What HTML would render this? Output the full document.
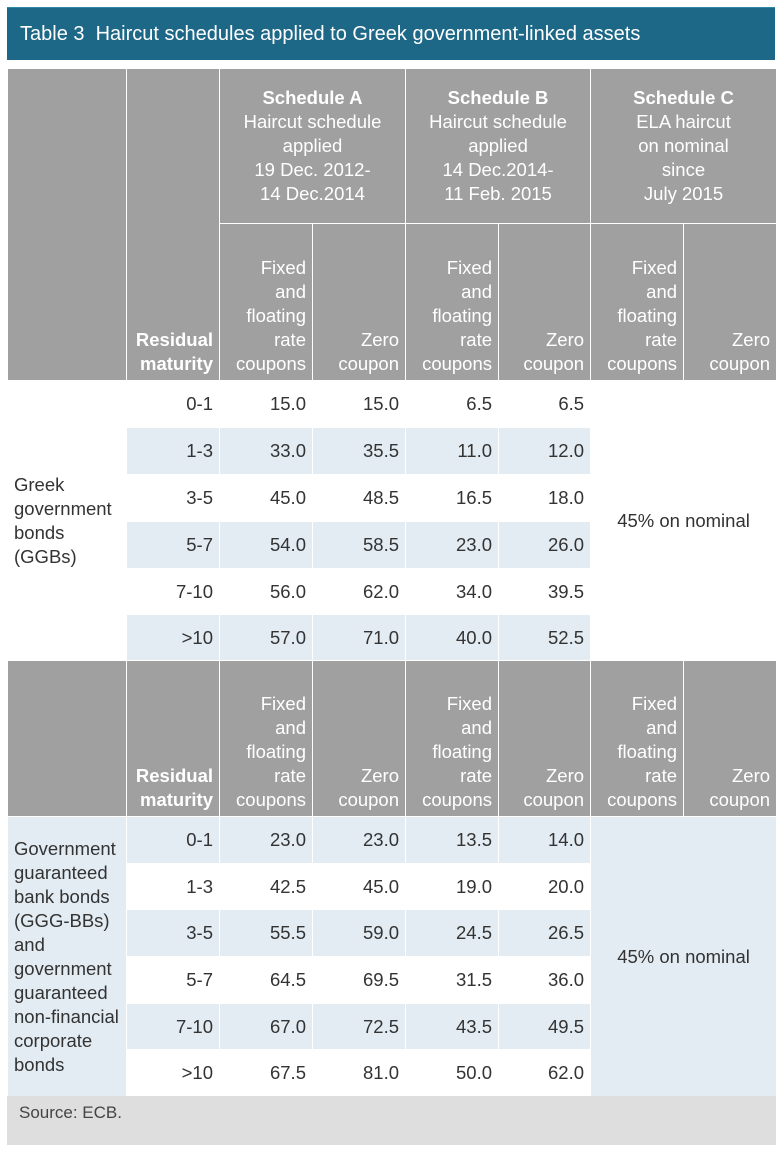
<!DOCTYPE html>
<html><head><meta charset="utf-8"><style>
body{margin:0;width:781px;height:1152px;background:#fff;font-family:"Liberation Sans",sans-serif;position:relative;overflow:hidden}
.title{position:absolute;left:7px;top:7px;width:768px;height:53px;background:#1d6787;color:#fff;font-size:20px;line-height:53px;padding-left:13px;box-sizing:border-box;border-top:1px solid #2f86a6}
table{position:absolute;left:7px;top:68px;border-collapse:collapse;table-layout:fixed;width:769px;font-size:18.5px;color:#333}
td{border:1.5px solid #fff;padding:0 6px;text-align:right;vertical-align:middle;line-height:24px;overflow:hidden}
.h{background:#a0a0a0;color:#fff}
.hc{text-align:center;vertical-align:middle}
.hb{vertical-align:bottom;padding-bottom:4px}
.b{background:#e3ecf3}
.w{background:#fff}
.l{text-align:left;padding-left:6px}
.c{text-align:center}
.src{position:absolute;left:7px;top:1096px;width:769px;height:49px;background:#dedede;font-size:17px;color:#444;line-height:34px;padding-left:12px;box-sizing:border-box}
</style></head><body>
<div class="title">Table 3&nbsp; Haircut schedules applied to Greek government-linked assets</div>
<table>
<colgroup><col style="width:119px"><col style="width:93px"><col style="width:93px"><col style="width:93px"><col style="width:93px"><col style="width:92px"><col style="width:93px"><col style="width:93px"></colgroup>
<tr style="height:155px">
<td class="h" rowspan="2"></td><td class="h" rowspan="2" style="vertical-align:bottom;padding-bottom:4px;font-weight:bold">Residual maturity</td>
<td class="h hc" colspan="2"><b>Schedule A</b><br>Haircut schedule<br>applied<br>19 Dec. 2012-<br>14 Dec.2014</td>
<td class="h hc" colspan="2"><b>Schedule B</b><br>Haircut schedule<br>applied<br>14 Dec.2014-<br>11 Feb. 2015</td>
<td class="h hc" colspan="2"><b>Schedule C</b><br>ELA haircut<br>on nominal<br>since<br>July 2015</td></tr>
<tr style="height:157px">
<td class="h hb">Fixed and floating rate coupons</td><td class="h hb">Zero coupon</td>
<td class="h hb">Fixed and floating rate coupons</td><td class="h hb">Zero coupon</td>
<td class="h hb">Fixed and floating rate coupons</td><td class="h hb">Zero coupon</td></tr>
<tr style="height:47px"><td class="w l" rowspan="6">Greek government bonds (GGBs)</td><td class="w">0-1</td><td class="w">15.0</td><td class="w">15.0</td><td class="w">6.5</td><td class="w">6.5</td><td class="w c" colspan="2" rowspan="6">45% on nominal</td></tr>
<tr style="height:47px"><td class="b">1-3</td><td class="b">33.0</td><td class="b">35.5</td><td class="b">11.0</td><td class="b">12.0</td></tr>
<tr style="height:47px"><td class="w">3-5</td><td class="w">45.0</td><td class="w">48.5</td><td class="w">16.5</td><td class="w">18.0</td></tr>
<tr style="height:47px"><td class="b">5-7</td><td class="b">54.0</td><td class="b">58.5</td><td class="b">23.0</td><td class="b">26.0</td></tr>
<tr style="height:46px"><td class="w">7-10</td><td class="w">56.0</td><td class="w">62.0</td><td class="w">34.0</td><td class="w">39.5</td></tr>
<tr style="height:46px"><td class="b">&gt;10</td><td class="b">57.0</td><td class="b">71.0</td><td class="b">40.0</td><td class="b">52.5</td></tr>
<tr style="height:156px"><td class="h"></td><td class="h hb" style="font-weight:bold">Residual maturity</td>
<td class="h hb">Fixed and floating rate coupons</td><td class="h hb">Zero coupon</td>
<td class="h hb">Fixed and floating rate coupons</td><td class="h hb">Zero coupon</td>
<td class="h hb">Fixed and floating rate coupons</td><td class="h hb">Zero coupon</td></tr>
<tr style="height:47px"><td class="b l" rowspan="6" style="vertical-align:top;padding-top:20px">Government guaranteed bank bonds (GGG-BBs) and government guaranteed non-financial corporate bonds</td><td class="b">0-1</td><td class="b">23.0</td><td class="b">23.0</td><td class="b">13.5</td><td class="b">14.0</td><td class="b c" colspan="2" rowspan="6">45% on nominal</td></tr>
<tr style="height:46px"><td class="w">1-3</td><td class="w">42.5</td><td class="w">45.0</td><td class="w">19.0</td><td class="w">20.0</td></tr>
<tr style="height:47px"><td class="b">3-5</td><td class="b">55.5</td><td class="b">59.0</td><td class="b">24.5</td><td class="b">26.5</td></tr>
<tr style="height:47px"><td class="w">5-7</td><td class="w">64.5</td><td class="w">69.5</td><td class="w">31.5</td><td class="w">36.0</td></tr>
<tr style="height:46px"><td class="b">7-10</td><td class="b">67.0</td><td class="b">72.5</td><td class="b">43.5</td><td class="b">49.5</td></tr>
<tr style="height:47px"><td class="w">&gt;10</td><td class="w">67.5</td><td class="w">81.0</td><td class="w">50.0</td><td class="w">62.0</td></tr>
</table>
<div class="src">Source: ECB.</div>
</body></html>
